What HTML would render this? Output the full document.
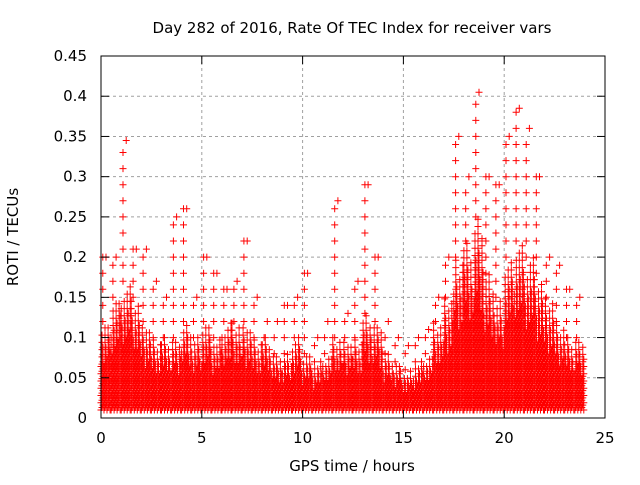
<!DOCTYPE html>
<html><head><meta charset="utf-8"><style>
body{margin:0;background:#fff}
svg text{font-family:"DejaVu Sans","Liberation Sans",sans-serif;font-size:15px;fill:#000}
</style></head><body>
<svg width="640" height="480" xmlns="http://www.w3.org/2000/svg">
<rect width="640" height="480" fill="#fff"/>
<g id="grid"></g>
<g id="pts"></g>
<rect x="101" y="56" width="504" height="362" fill="none" stroke="#000"/>
<g id="axes"></g>
<text x="352" y="33" text-anchor="middle">Day 282 of 2016, Rate Of TEC Index for receiver vars</text>
<text x="352" y="471" text-anchor="middle">GPS time / hours</text>
<text transform="translate(18,237) rotate(-90)" text-anchor="middle">ROTI / TECUs</text>
</svg>
<script>
const binStart=[0,0.5,1,1.5,2,2.5,3,3.5,4,4.5,5,5.5,6,6.5,7,7.5,8,8.5,9,9.5,10,10.5,11,11.5,12,12.5,13,13.5,14,14.5,15,15.5,16,16.5,17,17.5,18,18.5,19,19.5,20,20.5,21,21.5,22,22.5,23,23.5];
const coreTop=[0.12,0.15,0.17,0.15,0.12,0.1,0.1,0.1,0.12,0.1,0.12,0.1,0.12,0.12,0.12,0.1,0.1,0.08,0.08,0.1,0.08,0.07,0.08,0.1,0.1,0.1,0.13,0.12,0.08,0.07,0.06,0.07,0.08,0.12,0.15,0.2,0.22,0.25,0.18,0.15,0.2,0.22,0.2,0.18,0.15,0.12,0.1,0.1];
const peakVal=[0.2,0.2,0.345,0.21,0.21,0.17,0.15,0.25,0.26,0.15,0.2,0.18,0.16,0.17,0.22,0.15,0.12,0.12,0.14,0.15,0.18,0.1,0.12,0.27,0.13,0.17,0.29,0.2,0.12,0.1,0.09,0.1,0.11,0.15,0.2,0.35,0.3,0.405,0.3,0.29,0.35,0.385,0.36,0.3,0.2,0.19,0.16,0.15];
const xTicks=[0,5,10,15,20,25];
const yTicks=[0,0.05,0.1,0.15,0.2,0.25,0.3,0.35,0.4,0.45];
const X=v=>101+v*504/25, Y=v=>418-v*362/0.45;
const NS='http://www.w3.org/2000/svg';
function mk(tag,attrs,parent){const e=document.createElementNS(NS,tag);for(const k in attrs)e.setAttribute(k,attrs[k]);parent.appendChild(e);return e;}
const grid=document.getElementById('grid'),axes=document.getElementById('axes'),pts=document.getElementById('pts');
xTicks.forEach(t=>{
 if(t>0&&t<25){const l=mk('line',{x1:X(t),x2:X(t),y1:56,y2:418,stroke:'#a0a0a0','stroke-dasharray':'3,3'},grid);
 
 }
 mk('line',{x1:X(t),x2:X(t),y1:418,y2:410,stroke:'#000'},axes);
 mk('line',{x1:X(t),x2:X(t),y1:56,y2:64,stroke:'#000'},axes);
 const tx=mk('text',{x:X(t),y:443,'text-anchor':'middle'},axes);tx.textContent=t;
 
 
});
yTicks.forEach(t=>{
 if(t>0&&t<0.45){const l=mk('line',{x1:101,x2:605,y1:Y(t),y2:Y(t),stroke:'#a0a0a0','stroke-dasharray':'3,3'},grid);
 
 }
 mk('line',{x1:101,x2:109,y1:Y(t),y2:Y(t),stroke:'#000'},axes);
 mk('line',{x1:605,x2:597,y1:Y(t),y2:Y(t),stroke:'#000'},axes);
 const tx=mk('text',{x:87,y:Y(t)+5,'text-anchor':'end'},axes);tx.textContent=t;
 
 
});
const plus=(x,y)=>`M${(x-3.5).toFixed(1)} ${y.toFixed(1)}h7M${x.toFixed(1)} ${(y-3.5).toFixed(1)}v7`;
binStart.forEach((b,i)=>{
 let d='';const top=coreTop[i];
 for(let c=0;c<10;c++){
  const t=b+c*0.05, h=top*(0.55+0.45*((c*7+i*3)%10)/9);
  for(let v=0.01+(c%3)*0.003;v<=h;v+=0.009)d+=plus(X(t),Y(v));
 }
 const mid=b+0.25;
 for(let v=top;v<=peakVal[i];v+=0.02)d+=plus(X(mid+((Math.round(v*1000))%5-2)*0.08),Y(v));
 d+=plus(X(mid),Y(peakVal[i]));
 const p=mk('path',{d:d,stroke:'#ff0000','stroke-width':1,fill:'none'},pts);
 
 
});
</script>
</body></html>
